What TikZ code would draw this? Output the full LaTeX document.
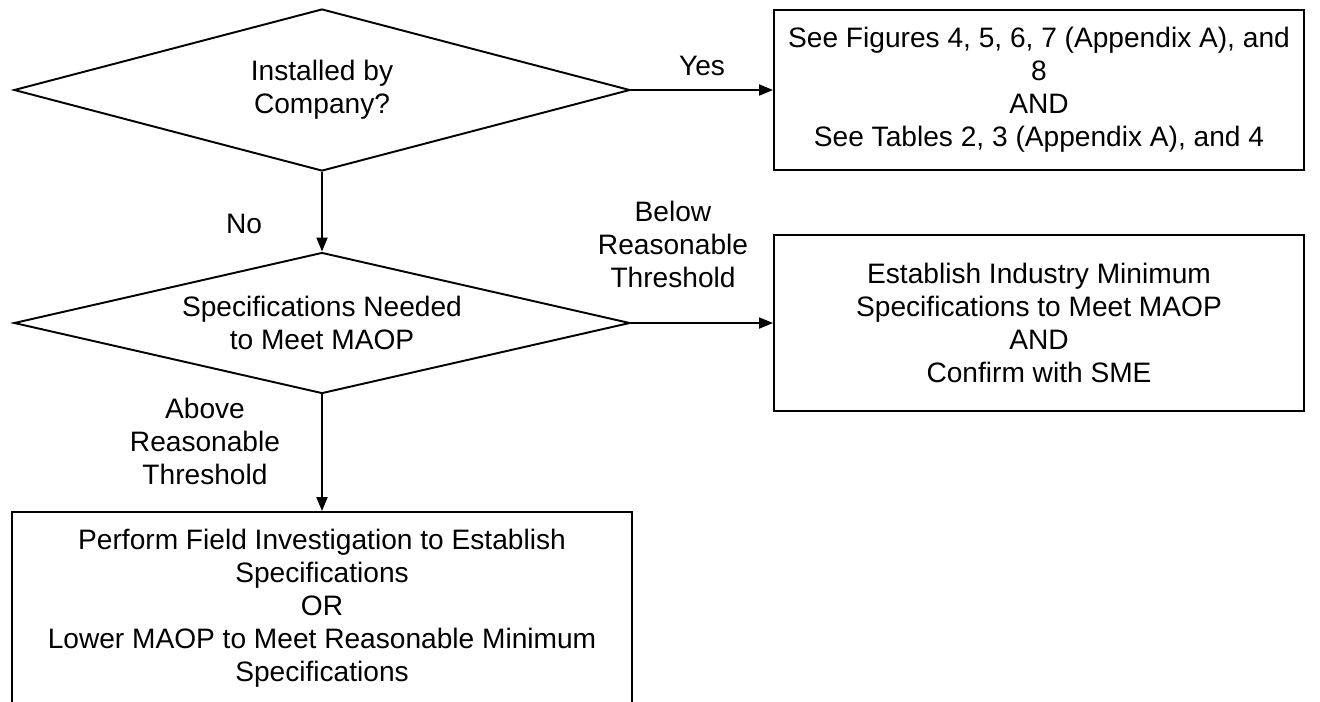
\documentclass[tikz,border=0pt]{standalone}
\usepackage{fontspec}
\setmainfont{Liberation Sans}
\usepackage{tikz}
\usetikzlibrary{shapes.geometric, arrows.meta}
\tikzstyle{decision} = [diamond,
aspect=4.3,
inner sep=0pt,
minimum width=12.32cm,
text centered,
align=center,
draw=black,
line width=1.1pt]
\tikzstyle{process} = [rectangle,
minimum width=10.6cm,
minimum height=3.2cm,
text centered,
align=center,
draw=black,
line width=1.1pt]

\begin{document}
\begin{tikzpicture}[node distance=4.66cm, >={Triangle[length=0.28cm, width=0.22cm]}]
\tikzstyle{every node}=[font=\fontsize{16}{18.8}\selectfont]
\useasboundingbox (0,0) rectangle (26.4,-14.02);
\node (company) [decision, minimum height=3.24cm] at (6.44,-1.8) {Installed by\\Company?};
\node (figures) [process, right of=company, xshift=9.68cm] {See Figures 4, 5, 6, 7 (Appendix A), and\\8\\AND\\See Tables 2, 3 (Appendix A), and 4};
\node (specs) [decision, minimum height=2.82cm, below of=company] {Specifications Needed\\to Meet MAOP};
\node (industry) [process, minimum height=3.52cm, right of=specs, xshift=9.68cm] {Establish Industry Minimum\\Specifications to Meet MAOP\\AND\\Confirm with SME};
\node (field) [process, minimum width=12.4cm, minimum height=3.84cm, below of=specs, yshift=-1.04cm] {Perform Field Investigation to Establish\\Specifications\\OR\\Lower MAOP to Meet Reasonable Minimum\\Specifications};

\draw [->, line width=1.1pt] (company) edge node[above=0.15cm] {Yes} (figures);
\draw [->, line width=1.1pt] (company) edge node[pos=0.65, xshift=-1.56cm] {No} (specs);
\draw [->, line width=1.1pt] (specs) edge node[midway, xshift=-0.58cm, yshift=1.58cm, align=center] {Below\\Reasonable\\Threshold} (industry);
\draw [->, line width=1.1pt] (specs) edge node[pos=0.4, xshift=-2.34cm, align=center] {Above\\Reasonable\\Threshold} (field);
\end{tikzpicture}
\end{document}
